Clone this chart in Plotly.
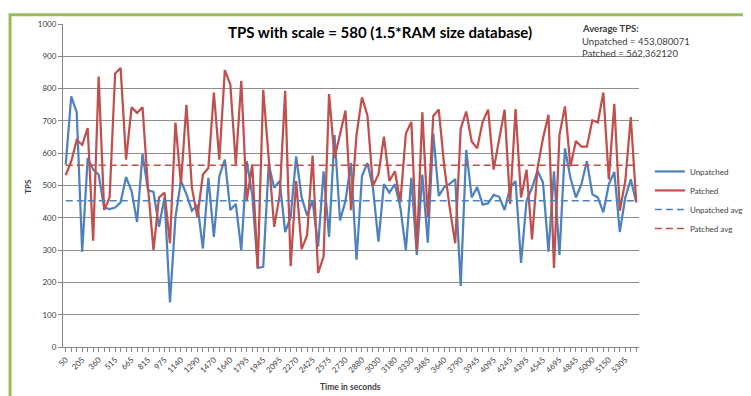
import plotly.graph_objects as go

# ---------------- data ----------------
times = [50, 100, 155, 205, 255, 305, 360, 410, 465, 515, 565, 615,
         665, 715, 765, 815, 870, 920, 975, 1030, 1085, 1140, 1190, 1240,
         1290, 1350, 1410, 1470, 1525, 1580, 1640, 1690, 1745, 1795, 1845, 1895,
         1945, 1995, 2045, 2095, 2155, 2210, 2270, 2320, 2370, 2425, 2475, 2525,
         2575, 2625, 2680, 2730, 2780, 2830, 2880, 2930, 2980, 3030, 3080, 3130,
         3180, 3230, 3280, 3330, 3380, 3435, 3485, 3535, 3590, 3640, 3690, 3740,
         3790, 3840, 3895, 3945, 3995, 4045, 4095, 4145, 4195, 4245, 4295, 4345,
         4395, 4445, 4495, 4545, 4595, 4645, 4695, 4745, 4795, 4845, 4895, 4950,
         5000, 5050, 5100, 5150, 5200, 5255, 5305, 5355, 5405]

tick_labels = ["50", "205", "360", "515", "665", "815", "975", "1140", "1290",
               "1470", "1640", "1795", "1945", "2095", "2270", "2425", "2575",
               "2730", "2880", "3030", "3180", "3330", "3485", "3640", "3790",
               "3945", "4095", "4245", "4395", "4545", "4695", "4845", "5000",
               "5150", "5305"]

unpatched = [565, 776, 727, 295, 585, 549, 534, 432, 427, 432,
             448, 526, 483, 387, 597, 485, 480, 372, 463, 138,
             402, 514, 473, 422, 440, 305, 524, 341, 529, 580,
             424, 443, 300, 575, 470, 245, 248, 565, 493, 514,
             356, 402, 590, 463, 407, 453, 311, 544, 341, 656,
             392, 453, 570, 270, 529, 570, 493, 326, 504, 478,
             504, 432, 300, 524, 285, 534, 323, 661, 468, 495,
             505, 520, 189, 610, 463, 495, 441, 445, 471, 465,
             424, 493, 514, 260, 453, 493, 546, 509, 295, 544,
             285, 615, 524, 463, 504, 575, 473, 463, 417, 504,
             542, 356, 463, 519, 448]

patched = [532, 575, 641, 626, 678, 329, 837, 424, 463, 847,
           864, 580, 742, 725, 742, 493, 300, 463, 478, 321,
           695, 504, 750, 493, 402, 534, 554, 788, 580, 857,
           813, 565, 824, 453, 565, 245, 796, 585, 372, 470,
           793, 250, 514, 303, 346, 593, 229, 280, 783, 585,
           656, 732, 424, 656, 773, 717, 499, 534, 651, 514,
           544, 448, 661, 697, 300, 727, 402, 715, 735, 560,
           430, 321, 676, 729, 636, 615, 697, 735, 549, 636,
           735, 443, 737, 463, 549, 333, 554, 646, 719, 245,
           656, 745, 559, 638, 620, 620, 702, 695, 788, 519,
           753, 422, 514, 712, 448]

unpatched_avg = 453.080071
patched_avg = 562.362120

# ---------------- figure ----------------
BLUE = "#4F81BD"
RED = "#C0504D"

cats = [str(t) for t in times]
label_set = set(tick_labels)
ticktext = [c if c in label_set else "" for c in cats]

fig = go.Figure()
fig.add_trace(go.Scatter(x=cats, y=unpatched, mode="lines", name="Unpatched",
                         line=dict(color=BLUE, width=2.25)))
fig.add_trace(go.Scatter(x=cats, y=patched, mode="lines", name="Patched",
                         line=dict(color=RED, width=2.25)))
fig.add_trace(go.Scatter(x=[cats[0], cats[-1]], y=[unpatched_avg, unpatched_avg],
                         mode="lines", name="Unpatched avg",
                         line=dict(color=BLUE, width=1.5, dash="7px,4px")))
fig.add_trace(go.Scatter(x=[cats[0], cats[-1]], y=[patched_avg, patched_avg],
                         mode="lines", name="Patched avg",
                         line=dict(color=RED, width=1.5, dash="7px,4px")))

L, R, T, B = 55, 114, 11, 57
W, H = 751, 396
pw, ph = W - L - R, H - T - B


def px(x):
    return (x - L) / pw


def py(y):
    return (H - B - y) / ph


FONT = "Lato, 'Open Sans', sans-serif"

fig.update_layout(
    width=W, height=H,
    margin=dict(l=L, r=R, t=T, b=B),
    paper_bgcolor="white", plot_bgcolor="white",
    font=dict(family=FONT, size=8, color="#404040"),
    showlegend=True,
    legend=dict(x=px(648), y=py(146), xanchor="left", yanchor="top",
                font=dict(size=8, color="#404040"), itemwidth=30,
                tracegroupgap=0, bgcolor="rgba(0,0,0,0)"),
    xaxis=dict(type="category", range=[-0.5, len(cats) - 0.5],
               tickmode="array", tickvals=cats, ticktext=ticktext,
               tickangle=-45, ticks="outside", ticklen=4, tickcolor="#868686",
               showline=True, linecolor="#868686", linewidth=1,
               showgrid=False, zeroline=False,
               tickfont=dict(size=8, color="#404040")),
    yaxis=dict(range=[0, 1000], dtick=100, tick0=0,
               ticks="outside", ticklen=4, tickcolor="#868686",
               showline=True, linecolor="#868686", linewidth=1,
               showgrid=True, gridcolor="#8e8e8e", gridwidth=1,
               zeroline=False, tickfont=dict(size=8, color="#404040")),
    hovermode=False,
)

annotations = [
    dict(text="<b>TPS with scale = 580 (1.5*RAM size database)</b>",
         x=px(375), y=py(19), xanchor="center", yanchor="middle",
         font=dict(size=15, color="black", family=FONT)),
    dict(text="<b>Average TPS:</b>", x=px(577), y=py(16), xanchor="left",
         yanchor="middle", font=dict(size=9.5, color="#404040", family=FONT)),
    dict(text="Unpatched = 453,080071", x=px(577), y=py(29), xanchor="left",
         yanchor="middle", font=dict(size=9.5, color="#404040", family=FONT)),
    dict(text="Patched = 562,362120", x=px(577), y=py(41), xanchor="left",
         yanchor="middle", font=dict(size=9.5, color="#404040", family=FONT)),
    dict(text="<b>TPS</b>", x=px(20), y=py(176), xanchor="center",
         yanchor="middle", textangle=-90,
         font=dict(size=8, color="#404040", family=FONT)),
    dict(text="<b>Time in seconds</b>", x=px(345), y=py(380), xanchor="center",
         yanchor="middle", font=dict(size=8.5, color="#404040", family=FONT)),
]
for a in annotations:
    a.update(xref="paper", yref="paper", showarrow=False)
fig.update_layout(annotations=annotations)

fig.add_shape(type="rect", xref="paper", yref="paper",
              x0=px(1.5), x1=px(W - 1.5), y0=py(H - 1.5), y1=py(1.5),
              line=dict(color="#9BBB59", width=3), fillcolor="rgba(0,0,0,0)",
              layer="above")

fig.write_html("out.html")
